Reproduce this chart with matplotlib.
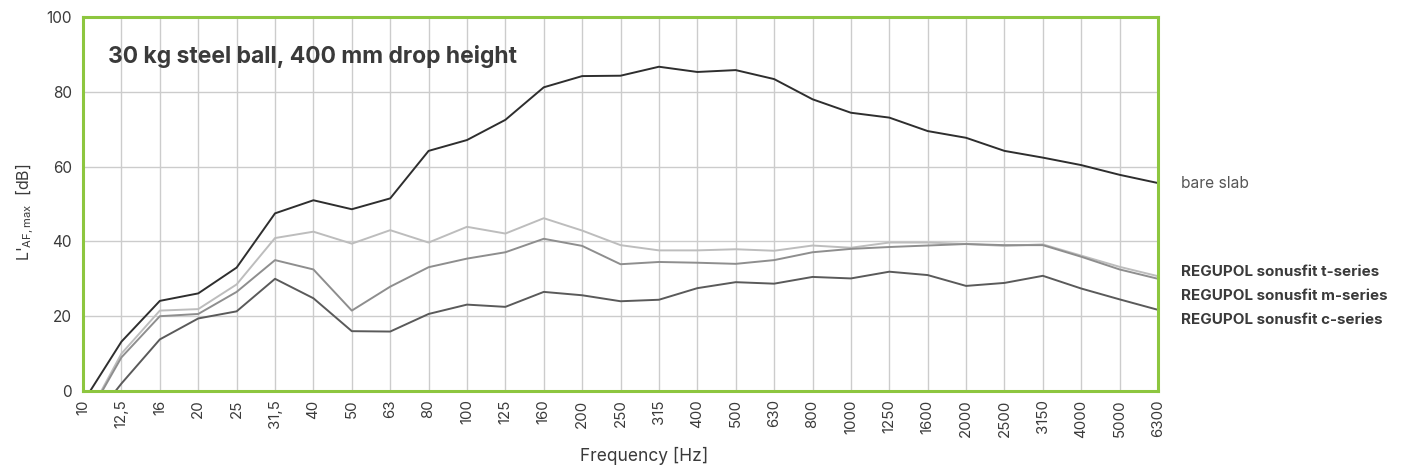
import matplotlib
matplotlib.use('Agg')
import matplotlib.pyplot as plt
import numpy as np

plt.rcParams['font.family'] = ['Inter', 'DejaVu Sans']
plt.rcParams['mathtext.fontset'] = 'custom'
plt.rcParams['mathtext.rm'] = 'Inter'

# third-octave bands (categorical axis)
freq_labels = ['10', '12,5', '16', '20', '25', '31,5', '40', '50', '63', '80', '100',
               '125', '160', '200', '250', '315', '400', '500', '630', '800', '1000',
               '1250', '1600', '2000', '2500', '3150', '4000', '5000', '6300']

bare_slab = [-3.0, 13.2, 24.1, 26.1, 33.0, 47.5, 51.0, 48.6, 51.5, 64.2, 67.1,
             72.5, 81.2, 84.2, 84.3, 86.7, 85.3, 85.8, 83.4, 78.0, 74.4,
             73.1, 69.5, 67.7, 64.2, 62.4, 60.4, 57.8, 55.6]
t_series = [-9.0, 10.0, 21.5, 21.9, 28.5, 40.9, 42.6, 39.4, 43.0, 39.7, 43.9,
            42.1, 46.2, 42.9, 39.0, 37.6, 37.6, 37.9, 37.5, 38.9, 38.3,
            39.7, 39.7, 39.3, 38.8, 39.2, 36.2, 33.2, 30.7]
m_series = [-9.0, 9.0, 20.0, 20.6, 26.5, 35.0, 32.5, 21.5, 27.9, 33.1, 35.4,
            37.1, 40.7, 38.8, 33.9, 34.5, 34.3, 34.0, 35.0, 37.1, 38.0,
            38.5, 38.9, 39.3, 39.0, 39.0, 35.9, 32.5, 30.0]
c_series = [-11.0, 2.0, 13.8, 19.4, 21.3, 30.0, 24.8, 16.0, 15.9, 20.6, 23.1,
            22.5, 26.5, 25.6, 24.0, 24.4, 27.5, 29.1, 28.7, 30.5, 30.1,
            31.9, 31.0, 28.1, 28.9, 30.8, 27.4, 24.5, 21.7]

yticks = [0, 20, 40, 60, 80, 100]

GREEN = '#8DC63F'
TEXT = '#3a3a3a'

fig = plt.figure(figsize=(14.03, 4.68), dpi=100)
ax = fig.add_axes([0.0592, 0.1645, 0.7662, 0.7992])

x = np.arange(len(freq_labels))
ax.plot(x, bare_slab, color='#2e2e2e', lw=1.4)
ax.plot(x, t_series, color='#bdbdbd', lw=1.4)
ax.plot(x, m_series, color='#8e8e8e', lw=1.4)
ax.plot(x, c_series, color='#5a5a5a', lw=1.4)

ax.set_xlim(0, len(freq_labels) - 1)
ax.set_ylim(0, 100)
ax.set_xticks(x)
ax.set_xticklabels(freq_labels, rotation=90, fontsize=10.8, color=TEXT)
ax.set_yticks(yticks)
ax.set_yticklabels([str(v) for v in yticks], fontsize=11, color=TEXT)
ax.tick_params(length=0, pad=6)
ax.tick_params(axis='y', pad=8)
ax.grid(True, color='#cccccc', lw=1.0)
ax.set_axisbelow(True)
for s in ax.spines.values():
    s.set_color(GREEN)
    s.set_linewidth(2.2)

fig.text(644 / 1403, 1 - 456 / 468, 'Frequency [Hz]', fontsize=12.5, color=TEXT,
         ha='center', va='center')
fig.text(25 / 1403, 1 - 212 / 468, r"L'$_{\mathregular{AF,max}}$  [dB]", fontsize=11.5,
         color=TEXT, rotation=90, ha='center', va='center')

ax.text(0.023, 0.895, '30 kg steel ball, 400 mm drop height', transform=ax.transAxes,
        fontsize=16.5, fontweight='bold', color=TEXT, va='center', ha='left')

# series labels to the right of the plot
fig.text(1181 / 1403, 1 - 183 / 468, 'bare slab', fontsize=11.2, color='#555555', va='center')
series_names = ['t-series', 'm-series', 'c-series']
for i, name in enumerate(series_names):
    fig.text(1181 / 1403, 1 - (272 + 24 * i) / 468, 'REGUPOL sonusfit ' + name,
             fontsize=10.9, fontweight='bold', color=TEXT, va='center')

fig.savefig('out.png', dpi=100)
